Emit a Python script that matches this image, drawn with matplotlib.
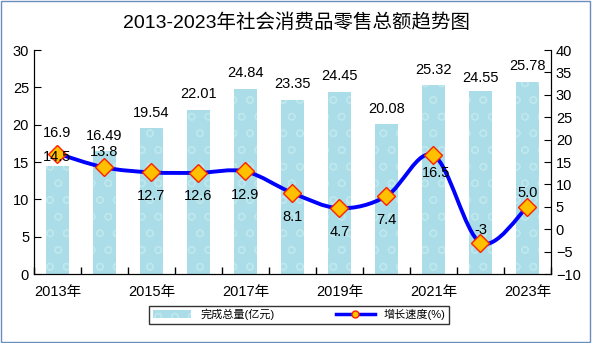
import matplotlib.pyplot as plt
from matplotlib.path import Path
from matplotlib.patches import PathPatch, Rectangle
from matplotlib.lines import Line2D
import numpy as np

plt.rcParams['font.family'] = ['Liberation Sans', 'Noto Sans CJK SC', 'DejaVu Sans']

years = ['2013年', '2014年', '2015年', '2016年', '2017年', '2018年',
         '2019年', '2020年', '2021年', '2022年', '2023年']
totals = [14.5, 16.49, 19.54, 22.01, 24.84, 23.35, 24.45, 20.08, 25.32, 24.55, 25.78]
total_labels = ['14.5', '16.49', '19.54', '22.01', '24.84', '23.35', '24.45',
                '20.08', '25.32', '24.55', '25.78']
growth = [16.9, 13.8, 12.7, 12.6, 12.9, 8.1, 4.7, 7.4, 16.5, -3, 5.0]
growth_labels = ['16.9', '13.8', '12.7', '12.6', '12.9', '8.1', '4.7', '7.4',
                 '16.5', '-3', '5.0']
# label offsets in points (dx, dy)
growth_offsets = [(0, 15), (0, 11), (0, -17), (0, -17), (0, -17), (0, -17),
                  (0, -17), (0, -17), (2, -13), (0, 9), (0, 10)]
bar_offsets = [(0, 1), (0, 6), (0, 6), (0, 6), (0, 6), (0, 6),
               (0, 6), (0, 6), (0, 6), (0, 4), (0, 6)]

fig = plt.figure(figsize=(5.92, 3.43), dpi=100)
ax = fig.add_axes([0.0574, 0.201, 0.8733, 0.653])
x = np.arange(len(years))

ax.bar(x, totals, width=0.5, color='#aadde7', edgecolor='#bde6ed', hatch='o',
       linewidth=0, zorder=1)

ax.set_xlim(-0.5, len(years) - 0.5)
ax.set_ylim(0, 30)
ax.set_yticks(np.arange(0, 31, 5))
ax.set_xticks(np.arange(-0.5, len(years), 1))
ax.set_xticklabels([])
ax.set_xticks(x[::2], minor=True)
ax.set_xticklabels(years[::2], minor=True, fontsize=10.5)
ax.tick_params(axis='x', which='major', direction='in', length=5, width=1)
ax.tick_params(axis='x', which='minor', length=0, pad=8)
ax.tick_params(axis='y', direction='in', length=5, labelsize=10.5)
ax.spines['top'].set_visible(False)

ax2 = ax.twinx()
ax2.set_ylim(-10, 40)
ax2.set_yticks(np.arange(-10, 41, 5))
ax2.tick_params(axis='y', direction='in', length=5, labelsize=10.5)
ax2.spines['top'].set_visible(False)

# smooth curve through the points (Catmull-Rom drawn as Bezier segments)
pts = np.column_stack([x, growth]).astype(float)
verts = [tuple(pts[0])]
codes = [Path.MOVETO]
for i in range(len(pts) - 1):
    p0 = pts[i - 1] if i > 0 else pts[i]
    p1, p2 = pts[i], pts[i + 1]
    p3 = pts[i + 2] if i + 2 < len(pts) else pts[i + 1]
    c1 = p1 + (p2 - p0) / 6
    c2 = p2 - (p3 - p1) / 6
    verts += [tuple(c1), tuple(c2), tuple(p2)]
    codes += [Path.CURVE4] * 3
ax2.add_patch(PathPatch(Path(verts, codes), facecolor='none', edgecolor='#0000ff',
                        linewidth=2.8, zorder=3))
ax2.plot(x, growth, linestyle='none', marker='D', markersize=9,
         markerfacecolor='#ffc000', markeredgecolor='#ff2000', markeredgewidth=1,
         zorder=4)
for xi, v, s, off in zip(x, growth, growth_labels, growth_offsets):
    ax2.annotate(s, (xi, v), xytext=off, textcoords='offset points',
                 ha='center', va='center', fontsize=10.5, zorder=5)
# bar labels drawn on the top axes so they sit over the markers
for xi, v, s, off in zip(x, totals, total_labels, bar_offsets):
    ax2.annotate(s, (xi, v), xycoords=ax.transData, xytext=off,
                 textcoords='offset points', ha='center', va='bottom',
                 fontsize=10.5, zorder=6)

fig.text(0.5, 0.935, '2013-2023年社会消费品零售总额趋势图', ha='center', va='center',
         fontsize=14, family=['Liberation Sans', 'Noto Sans CJK SC'])

handles = [Rectangle((0, 0), 1, 1, facecolor='#aadde7', edgecolor='#bde6ed',
                     hatch='o', linewidth=0),
           Line2D([0], [0], color='#0000ff', linewidth=2.5, marker='o',
                  markersize=5, markerfacecolor='#ffc000', markeredgecolor='#ff2000')]
leg = fig.legend(handles, ['完成总量(亿元)', '增长速度(%)'], loc='center',
                 bbox_to_anchor=(0.505, 0.083), ncol=2, fontsize=8,
                 frameon=True, fancybox=False, edgecolor='black',
                 handlelength=3.5, columnspacing=5.5, borderpad=0.3)
leg.get_frame().set_linewidth(1)

fig.patches.append(Rectangle((0.002, 0.003), 0.995, 0.993, transform=fig.transFigure,
                             fill=False, edgecolor='#6c8ebf', linewidth=1))

fig.savefig('out.png', dpi=100)
